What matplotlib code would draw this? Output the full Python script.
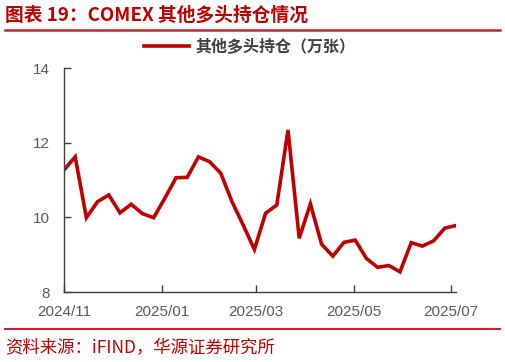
import numpy as np
import pandas as pd
import matplotlib
matplotlib.use("Agg")
import matplotlib.pyplot as plt
import matplotlib.dates as mdates
from matplotlib.lines import Line2D

plt.rcParams['font.family'] = ['Liberation Sans', 'Noto Sans CJK SC', 'DejaVu Sans']

# 周度数据：COMEX 其他多头持仓（万张）
dates = pd.date_range("2024-11-05", periods=36, freq="7D")
values = [11.27, 11.62, 9.99, 10.42, 10.60, 10.12, 10.35, 10.10, 9.99,
          10.51, 11.06, 11.07, 11.62, 11.49, 11.18, 10.42, 9.79, 9.14,
          10.11, 10.33, 12.34, 9.44, 10.36, 9.28, 8.96, 9.33, 9.39, 8.90,
          8.66, 8.71, 8.54, 9.32, 9.23, 9.37, 9.71, 9.78]
tick_dates = pd.to_datetime(["2024-11-05", "2025-01-05", "2025-03-05",
                             "2025-05-05", "2025-07-05"])
tick_labels = ["2024/11", "2025/01", "2025/03", "2025/05", "2025/07"]
y_ticks = [8, 10, 12, 14]

red = "#c00000"
grey = "#595959"

fig = plt.figure(figsize=(5.06, 3.62), dpi=100)
ax = fig.add_axes([64 / 506, 1 - 292 / 362, (456 - 64) / 506, (292 - 68) / 362])

ax.plot(dates, values, color=red, lw=2.6, solid_joinstyle="miter")
ax.set_xlim(dates[0], dates[-1])
ax.set_ylim(8, 14)
ax.set_yticks(y_ticks)
ax.set_xticks(tick_dates)
ax.set_xticklabels(tick_labels)

for s in ["top", "right"]:
    ax.spines[s].set_visible(False)
for s in ["left", "bottom"]:
    ax.spines[s].set_color("#404040")
    ax.spines[s].set_linewidth(1.0)
ax.tick_params(axis="both", direction="in", length=5, width=1.0,
               color="#404040", labelcolor=grey, labelsize=11)
ax.tick_params(axis="y", pad=10)
ax.tick_params(axis="x", pad=9)

# 图例
handle = Line2D([], [], color=red, lw=2.6)
fig.legend([handle], ["其他多头持仓（万张）"], loc="center",
           bbox_to_anchor=(250 / 506, 1 - 47 / 362), frameon=False,
           handlelength=2.8, handletextpad=0.4,
           prop={"family": ["Noto Sans CJK SC"], "size": 11.5, "weight": "bold"},
           labelcolor="#404040")

# 标题与来源
fig.text(5 / 506, 1 - 15 / 362, "图表 19：COMEX 其他多头持仓情况", color=red,
         fontsize=13.5, fontweight="bold", family=["Noto Sans CJK SC"],
         va="center", ha="left")
fig.add_artist(Line2D([5 / 506, 500 / 506], [1 - 30 / 362, 1 - 30 / 362],
                      color="#c0282d", lw=1.8))
fig.add_artist(Line2D([5 / 506, 500 / 506], [1 - 329 / 362, 1 - 329 / 362],
                      color="#c0282d", lw=1.5))
fig.text(5 / 506, 1 - 348 / 362, "资料来源：iFIND，华源证券研究所", color=red,
         fontsize=12.5, family=["Noto Sans CJK SC"], va="center", ha="left")

fig.savefig("out.png", dpi=100)
